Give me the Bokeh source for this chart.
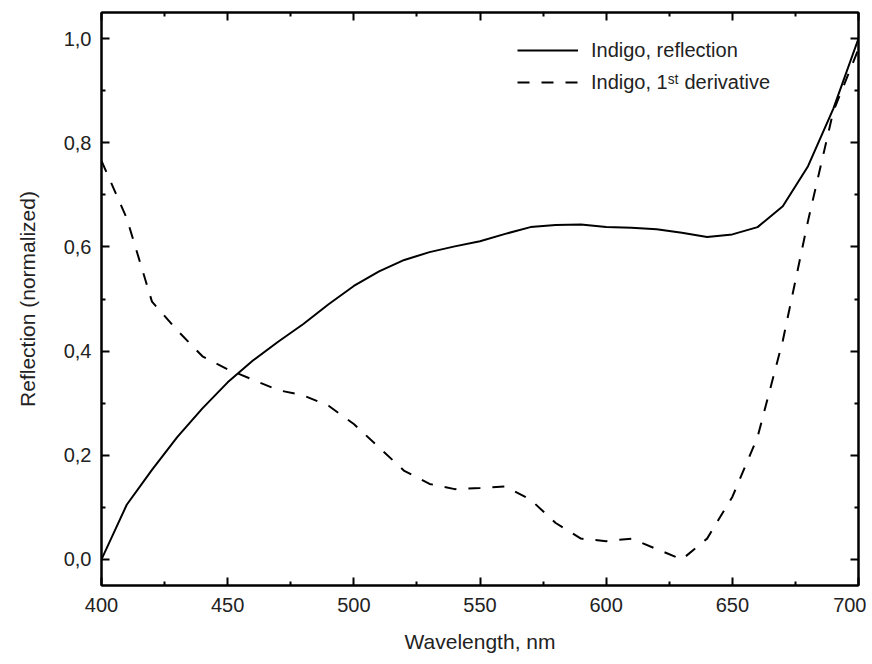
from bokeh.plotting import figure
from bokeh.models import (LinearAxis, FixedTicker, CustomJSTickFormatter, Legend,
                          LegendItem, Range1d)
from bokeh.embed import file_html
from bokeh.resources import INLINE

# ---- data ----
wavelength = [400, 410, 420, 430, 440, 450, 460, 470, 480, 490, 500,
              510, 520, 530, 540, 550, 560, 570, 580, 590, 600,
              610, 620, 630, 640, 650, 660, 670, 680, 690, 700]
reflection = [0.000, 0.105, 0.172, 0.235, 0.290, 0.340, 0.382, 0.418, 0.452, 0.490, 0.525,
              0.553, 0.575, 0.590, 0.601, 0.611, 0.625, 0.638, 0.642, 0.643, 0.638,
              0.637, 0.634, 0.627, 0.619, 0.624, 0.638, 0.678, 0.755, 0.865, 1.000]
derivative = [0.765, 0.655, 0.495, 0.440, 0.390, 0.365, 0.345, 0.325, 0.315, 0.295, 0.260,
              0.215, 0.170, 0.145, 0.135, 0.137, 0.140, 0.115, 0.070, 0.040, 0.035,
              0.040, 0.020, 0.000, 0.040, 0.120, 0.235, 0.420, 0.650, 0.860, 0.980]
series_labels = ["Indigo, reflection", "Indigo, 1\u02e2\u1d57 derivative"]
x_ticks = [400, 450, 500, 550, 600, 650, 700]
x_minor = [425, 475, 525, 575, 625, 675]
y_ticks = [0.0, 0.2, 0.4, 0.6, 0.8, 1.0]
y_minor = [0.1, 0.3, 0.5, 0.7, 0.9]
x_title = "Wavelength, nm"
y_title = "Reflection (normalized)"

FONT = "Liberation Sans"

p = figure(width=866, height=660, output_backend="svg", toolbar_location=None,
           x_range=Range1d(400, 700), y_range=Range1d(-0.05, 1.05),
           min_border_left=101, min_border_right=8, min_border_top=12,
           min_border_bottom=75)
p.background_fill_color = "white"
p.border_fill_color = "white"
p.xgrid.visible = False
p.ygrid.visible = False
p.outline_line_color = "black"
p.outline_line_width = 2

yfmt = CustomJSTickFormatter(code="return tick.toFixed(1).replace('.', ',');")


def style_axis(ax, labels=True):
    ax.axis_line_color = "black"
    ax.axis_line_width = 2
    ax.major_tick_in = 8
    ax.major_tick_out = 0
    ax.minor_tick_in = 4
    ax.minor_tick_out = 0
    ax.major_tick_line_width = 2
    ax.minor_tick_line_width = 2
    ax.major_tick_line_color = "black"
    ax.minor_tick_line_color = "black"
    if labels:
        ax.major_label_text_font = FONT
        ax.major_label_text_font_size = "20px"
        ax.major_label_text_color = "#222222"
        ax.axis_label_text_font = FONT
        ax.axis_label_text_font_size = "21px"
        ax.axis_label_text_font_style = "normal"
        ax.axis_label_text_color = "#222222"
    else:
        ax.major_label_text_font_size = "1px"
        ax.major_label_text_color = None
        ax.major_label_standoff = 0


xt = FixedTicker(ticks=x_ticks, minor_ticks=x_minor)
yt = FixedTicker(ticks=y_ticks, minor_ticks=y_minor)

xa = p.xaxis[0]
xa.ticker = xt
xa.axis_label = x_title
xa.major_label_standoff = 12
xa.axis_label_standoff = 15
style_axis(xa)

ya = p.yaxis[0]
ya.ticker = yt
ya.formatter = yfmt
ya.axis_label = y_title
ya.major_label_standoff = 10
ya.axis_label_standoff = 22
style_axis(ya)

top = LinearAxis(ticker=xt)
style_axis(top, labels=False)
p.add_layout(top, "above")
right = LinearAxis(ticker=yt)
style_axis(right, labels=False)
p.add_layout(right, "right")

r1 = p.line(wavelength, reflection, line_color="black", line_width=2)
r2 = p.line(wavelength, derivative, line_color="black", line_width=2,
            line_dash="12 12")

legend = Legend(items=[LegendItem(label=series_labels[0], renderers=[r1]),
                       LegendItem(label=series_labels[1], renderers=[r2])],
                location=(416, 491))
legend.padding = 0
legend.margin = 0
legend.border_line_alpha = 0
legend.background_fill_alpha = 0
legend.glyph_width = 61
legend.glyph_height = 24
legend.label_height = 24
legend.spacing = 8
legend.label_standoff = 13
legend.label_text_font = FONT
legend.label_text_font_size = "20px"
legend.label_text_color = "#222222"
p.add_layout(legend, "center")

with open("out.html", "w") as f:
    f.write(file_html(p, INLINE))
